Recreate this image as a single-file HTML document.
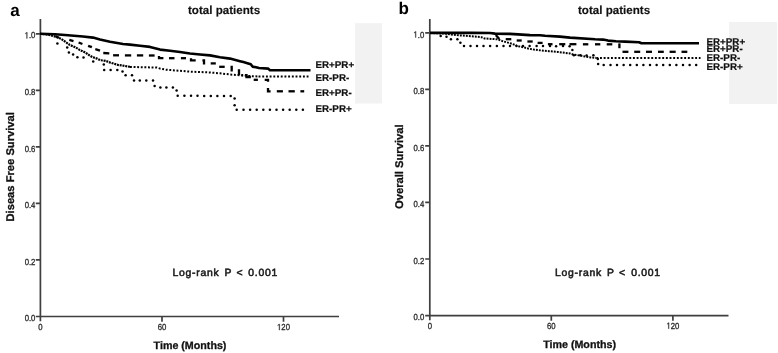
<!DOCTYPE html>
<html><head><meta charset="utf-8"><style>
html,body{margin:0;padding:0;background:#fff;}
svg{display:block;filter:grayscale(1);}
text{font-family:"Liberation Sans",sans-serif;text-rendering:geometricPrecision;}
.tk{font-size:8.8px;fill:#2a2a2a;stroke:#2a2a2a;stroke-width:0.3px;}
.ttl{font-size:11.6px;font-weight:bold;fill:#111;stroke:#111;stroke-width:0.15px;}
.lg{font-size:9.8px;font-weight:bold;fill:#111;stroke:#111;stroke-width:0.2px;}
.ax{font-size:10.7px;font-weight:bold;fill:#111;stroke:#111;stroke-width:0.3px;}
.yl{font-size:11.2px;font-weight:bold;fill:#111;stroke:#111;stroke-width:0.3px;}
.lr{font-size:10.4px;fill:#1a1a1a;stroke:#1a1a1a;stroke-width:0.55px;letter-spacing:0.73px;}
.one{fill:#2a2a2a;stroke:#2a2a2a;stroke-width:0.3px;vector-effect:non-scaling-stroke;}
.pl{font-size:17px;font-weight:bold;fill:#000;}
.axis{stroke:#3f3f3f;stroke-width:1.7;fill:none;}
.s{stroke:#000;stroke-width:2.6;fill:none;stroke-linejoin:round;}
.d polyline{stroke:#000;stroke-width:2.3;fill:none;}
.f{stroke:#000;stroke-width:2;fill:none;stroke-dasharray:1.9 1.1;}
.c{fill:#000;}
</style></head><body>
<svg width="778" height="353" viewBox="0 0 778 353">
<defs><path id="one" class="one" d="M515 0V1237L197 1010V1180L530 1409H696V0Z"/></defs>
<rect x="0" y="0" width="778" height="353" fill="#fff"/>
<rect x="355.2" y="23.2" width="26.8" height="80.3" fill="#f2f2f2"/>
<rect x="729" y="22" width="48" height="82" fill="#f2f2f2"/>

<text class="pl" x="10.2" y="15.8">a</text>
<text class="ttl" x="188" y="13.9">total patients</text>
<path class="axis" d="M40.4 19 V321.3 M40.4 316.5 H339 M35.8 33.8 H40.4 M35.8 90.3 H40.4 M35.8 146.9 H40.4 M35.8 203.4 H40.4 M35.8 259.9 H40.4 M35.8 316.5 H40.4 M162 316.5 V321.8 M283.5 316.5 V321.8"/>
<use href="#one" transform="matrix(0.00378125 0 0 -0.00429688 24.63 38.4)"/><text class="tk" transform="matrix(0.88 0 0 1 28.94 38.4)">.</text><text class="tk" transform="matrix(0.88 0 0 1 31.09 38.4)">0</text>
<text class="tk" transform="matrix(0.88 0 0 1 24.63 94.9)">0</text><text class="tk" transform="matrix(0.88 0 0 1 28.94 94.9)">.</text><text class="tk" transform="matrix(0.88 0 0 1 31.09 94.9)">8</text>
<text class="tk" transform="matrix(0.88 0 0 1 24.63 151.5)">0</text><text class="tk" transform="matrix(0.88 0 0 1 28.94 151.5)">.</text><text class="tk" transform="matrix(0.88 0 0 1 31.09 151.5)">6</text>
<text class="tk" transform="matrix(0.88 0 0 1 24.63 208)">0</text><text class="tk" transform="matrix(0.88 0 0 1 28.94 208)">.</text><text class="tk" transform="matrix(0.88 0 0 1 31.09 208)">4</text>
<text class="tk" transform="matrix(0.88 0 0 1 24.63 264.5)">0</text><text class="tk" transform="matrix(0.88 0 0 1 28.94 264.5)">.</text><text class="tk" transform="matrix(0.88 0 0 1 31.09 264.5)">2</text>
<text class="tk" transform="matrix(0.88 0 0 1 24.63 321.1)">0</text><text class="tk" transform="matrix(0.88 0 0 1 28.94 321.1)">.</text><text class="tk" transform="matrix(0.88 0 0 1 31.09 321.1)">0</text>
<text class="tk" transform="matrix(0.88 0 0 1 38.25 330.1)">0</text>
<text class="tk" transform="matrix(0.88 0 0 1 157.69 330.1)">6</text><text class="tk" transform="matrix(0.88 0 0 1 162 330.1)">0</text>
<use href="#one" transform="matrix(0.00378125 0 0 -0.00429688 277.04 330.1)"/><text class="tk" transform="matrix(0.88 0 0 1 281.35 330.1)">2</text><text class="tk" transform="matrix(0.88 0 0 1 285.65 330.1)">0</text>
<text class="ax" x="190" y="348.6" text-anchor="middle">Time (Months)</text>
<text class="yl" transform="translate(13.5,166.8) rotate(-90)" text-anchor="middle">Diseas Free Survival</text>
<text class="lr" x="172.5" y="276">Log-rank</text>
<text class="lr" x="224.5" y="276">P</text>
<text class="lr" x="236.5" y="276">&lt;</text>
<text class="lr" x="248.3" y="276">0.001</text>
<text class="lg" x="315.5" y="67.8">ER+PR+</text>
<text class="lg" x="315.5" y="81.1">ER-PR-</text>
<text class="lg" x="315.5" y="96.4">ER+PR-</text>
<text class="lg" x="315.5" y="111.6">ER-PR+</text>
<g class="d"><polyline points="55.5,36.2 59,37.8"/><polyline points="69.3,39.9 73.5,41.1"/><polyline points="78.6,42.5 82.4,44"/><polyline points="88.1,45.8 91.9,47.2"/><polyline points="95.3,49.2 100,50.6"/><polyline points="103.3,53 109.3,53.3"/><polyline points="113.1,55.3 119,55.3"/><polyline points="124.9,55.4 131.2,55.4"/><polyline points="136.9,55.4 143.2,55.4"/><polyline points="148.9,55.5 154.6,55.5"/><polyline points="159,56 159,58.2 163.4,58.2"/><polyline points="169,58.2 174.5,58.2"/><polyline points="180.9,58.2 186,58.2"/><polyline points="191,58.2 191,60.4 195.7,60.4"/><polyline points="202.4,60.4 204,60.4 204,63.4 205.2,63.4"/><polyline points="210.7,63.4 215.8,63.4"/><polyline points="219.2,66.8 224.7,66.8"/><polyline points="230.5,66.8 231.7,66.8 231.7,70.4 232.8,70.4"/><polyline points="237.8,70.4 239,70.4 239,75.2"/><polyline points="241.6,75.2 243.2,75.2"/><polyline points="245,75.2 246.5,75.2 246.5,77 250.9,77"/><polyline points="253.7,79.8 257.9,79.8"/><polyline points="264.7,79.9 268,79.9 268,81.8"/><polyline points="268,88 268,91.3 270.6,91.3"/><polyline points="276.8,91.3 282.9,91.3"/><polyline points="288.5,91.3 294.8,91.3"/><polyline points="300.4,91.3 304.2,91.3"/></g>
<polyline class="f" style="stroke-width:2.2;stroke-dasharray:2 0.8" points="40,33.8 48,34.6 55.3,36.6 61.2,38.9 65.5,41.9 69.7,44.9 75.7,47.4 80,50.1 85.1,52.4 89.3,55.2 92.7,57.2 97,58.6 100.4,60.2 105.5,60.8 109.7,62.4 114,63.7 118.2,65 122.4,65.5 130,66.9"/><polyline class="f" style="stroke-dasharray:1.9 1.7" points="130,66.9 157,67.6 160,68.6 166,69.7 175,70.4 190,71.6 210,72.5 220,73.3 230,74.5 240,75.2 252,76.2 258.55,76.5"/><polyline class="f" style="stroke-dasharray:1.9 1.8" points="258.55,76.6 308.5,76.6"/>
<g class="c"><circle cx="57.4" cy="43.6" r="1.25"/><circle cx="67.2" cy="47.4" r="1.25"/><circle cx="68.9" cy="52.5" r="1.25"/><circle cx="73.1" cy="54.6" r="1.25"/><circle cx="77.4" cy="57.3" r="1.25"/><circle cx="83.5" cy="57.5" r="1.25"/><circle cx="93.2" cy="61.6" r="1.25"/><circle cx="103.8" cy="64.4" r="1.25"/><circle cx="104.2" cy="70.1" r="1.25"/><circle cx="110.6" cy="70.1" r="1.25"/><circle cx="117.3" cy="70.1" r="1.25"/><circle cx="122.5" cy="71.6" r="1.25"/><circle cx="125.6" cy="75.3" r="1.25"/><circle cx="132" cy="75.3" r="1.25"/><circle cx="134" cy="80.4" r="1.25"/><circle cx="139.8" cy="80.4" r="1.25"/><circle cx="146.3" cy="80.4" r="1.25"/><circle cx="153" cy="80.4" r="1.25"/><circle cx="154.6" cy="86" r="1.25"/><circle cx="160.4" cy="87.5" r="1.25"/><circle cx="166.4" cy="87.5" r="1.25"/><circle cx="172.9" cy="87.5" r="1.25"/><circle cx="176.6" cy="90.6" r="1.25"/><circle cx="177.7" cy="95.7" r="1.25"/><circle cx="184.4" cy="95.7" r="1.25"/><circle cx="191" cy="95.7" r="1.25"/><circle cx="197.5" cy="95.7" r="1.25"/><circle cx="204.2" cy="95.9" r="1.25"/><circle cx="210.8" cy="95.9" r="1.25"/><circle cx="217.4" cy="95.9" r="1.25"/><circle cx="224" cy="95.9" r="1.25"/><circle cx="230.7" cy="95.9" r="1.25"/><circle cx="234.6" cy="98.6" r="1.25"/><circle cx="234.6" cy="105.2" r="1.25"/><circle cx="236.7" cy="109.8" r="1.25"/><circle cx="243.5" cy="109.8" r="1.25"/><circle cx="250.1" cy="109.8" r="1.25"/><circle cx="256.7" cy="109.8" r="1.25"/><circle cx="263.3" cy="109.8" r="1.25"/><circle cx="269.9" cy="109.8" r="1.25"/><circle cx="276.5" cy="109.8" r="1.25"/><circle cx="283.1" cy="109.8" r="1.25"/><circle cx="289.7" cy="109.8" r="1.25"/><circle cx="296.3" cy="109.8" r="1.25"/><circle cx="302.9" cy="109.8" r="1.25"/></g>
<polyline class="s" points="40,33.8 55,34.3 65,35 83,36.5 93,37.6 100,39.6 110,41.7 123,44 130,44.6 140,45.8 150,46.9 155,48.2 160,49.6 170,50.8 180,52 190,53.5 200,54.5 210,55.4 220,57.2 230,58.6 240,61.2 243.4,62.1 247.4,63.2 250.8,64.3 252.5,66.6 256,67.2 259,68 268.3,68.6 270,70.3 310.5,70.3"/>

<text class="pl" x="398.6" y="14.3">b</text>
<text class="ttl" x="578" y="13.9">total patients</text>
<path class="axis" d="M429.8 19 V320.3 M429.8 315.6 H728.5 M425.2 32.9 H429.8 M425.2 89.4 H429.8 M425.2 145.9 H429.8 M425.2 202.4 H429.8 M425.2 259 H429.8 M425.2 315.6 H429.8 M551.3 315.6 V320.7 M672.9 315.6 V320.7"/>
<use href="#one" transform="matrix(0.00378125 0 0 -0.00429688 413.43 37.5)"/><text class="tk" transform="matrix(0.88 0 0 1 417.74 37.5)">.</text><text class="tk" transform="matrix(0.88 0 0 1 419.89 37.5)">0</text>
<text class="tk" transform="matrix(0.88 0 0 1 413.43 94)">0</text><text class="tk" transform="matrix(0.88 0 0 1 417.74 94)">.</text><text class="tk" transform="matrix(0.88 0 0 1 419.89 94)">8</text>
<text class="tk" transform="matrix(0.88 0 0 1 413.43 150.5)">0</text><text class="tk" transform="matrix(0.88 0 0 1 417.74 150.5)">.</text><text class="tk" transform="matrix(0.88 0 0 1 419.89 150.5)">6</text>
<text class="tk" transform="matrix(0.88 0 0 1 413.43 207)">0</text><text class="tk" transform="matrix(0.88 0 0 1 417.74 207)">.</text><text class="tk" transform="matrix(0.88 0 0 1 419.89 207)">4</text>
<text class="tk" transform="matrix(0.88 0 0 1 413.43 263.6)">0</text><text class="tk" transform="matrix(0.88 0 0 1 417.74 263.6)">.</text><text class="tk" transform="matrix(0.88 0 0 1 419.89 263.6)">2</text>
<text class="tk" transform="matrix(0.88 0 0 1 413.43 320.2)">0</text><text class="tk" transform="matrix(0.88 0 0 1 417.74 320.2)">.</text><text class="tk" transform="matrix(0.88 0 0 1 419.89 320.2)">0</text>
<text class="tk" transform="matrix(0.88 0 0 1 427.65 328.7)">0</text>
<text class="tk" transform="matrix(0.88 0 0 1 546.99 328.7)">6</text><text class="tk" transform="matrix(0.88 0 0 1 551.3 328.7)">0</text>
<use href="#one" transform="matrix(0.00378125 0 0 -0.00429688 666.44 328.7)"/><text class="tk" transform="matrix(0.88 0 0 1 670.75 328.7)">2</text><text class="tk" transform="matrix(0.88 0 0 1 675.05 328.7)">0</text>
<text class="ax" x="579.6" y="347.7" text-anchor="middle">Time (Months)</text>
<text class="yl" transform="translate(403.3,166.7) rotate(-90)" text-anchor="middle">Overall Survival</text>
<text class="lr" x="555" y="276.2">Log-rank</text>
<text class="lr" x="607" y="276.2">P</text>
<text class="lr" x="619" y="276.2">&lt;</text>
<text class="lr" x="631.2" y="276.2">0.001</text>
<text class="lg" x="706.5" y="44.7">ER+PR+</text>
<text class="lg" x="706.5" y="52.4">ER+PR-</text>
<text class="lg" x="706.5" y="61.3">ER-PR-</text>
<text class="lg" x="706.5" y="69.6">ER-PR+</text>
<g class="d"><polyline points="495.8,34.9 499.3,38.9"/><polyline points="505.7,39.2 511.3,39.2"/><polyline points="516.7,40.5 521.7,40.5"/><polyline points="527.4,41.5 532.7,41.5"/><polyline points="537.6,42.9 542.6,42.9"/><polyline points="547.9,44.2 552.5,44.2"/><polyline points="559.2,44.2 565.3,44.2"/><polyline points="569.5,44.2 576.4,44.2"/><polyline points="582.9,44.3 588.3,44.3"/><polyline points="595,44.3 600.3,44.3"/><polyline points="606.7,44.3 612.3,44.3"/><polyline points="619.4,43.4 619.4,48.2"/><polyline points="622.5,51.8 628.4,51.8"/><polyline points="634.2,51.8 640.2,51.8"/><polyline points="646,51.8 652,51.8"/><polyline points="658,51.8 663.8,51.8"/><polyline points="669.6,51.8 675.7,51.8"/><polyline points="681.5,51.8 687.3,51.8"/></g>
<polyline class="f" points="430,33 445,33.6 450.6,34.5 458.7,35.3 465.5,35.8 474.3,36.5 481.4,37.2 484.5,38.4 494.4,39.1 498,39.4 503.2,41.4 509.4,43 515.6,45 517,46 524.2,47.4 528.4,48.6 534.8,49.7 541.9,50.5 549,51.2 557.7,51.9 565.3,52.9 569.9,53.4 573,54.4 580.6,55.6 585.2,56.5 590.6,57.4 596.35,57.9"/><polyline class="f" style="stroke-dasharray:1.9 1.76" points="596.35,57.95 700.5,57.95"/>
<g class="c"><circle cx="440.7" cy="36.1" r="1.25"/><circle cx="446.5" cy="36.7" r="1.25"/><circle cx="450.9" cy="39.3" r="1.25"/><circle cx="457.4" cy="39.3" r="1.25"/><circle cx="460.4" cy="42.8" r="1.25"/><circle cx="464" cy="46" r="1.25"/><circle cx="470.5" cy="46.1" r="1.25"/><circle cx="477" cy="46.1" r="1.25"/><circle cx="483.5" cy="46.1" r="1.25"/><circle cx="490.1" cy="46.1" r="1.25"/><circle cx="496.9" cy="46.1" r="1.25"/><circle cx="503.5" cy="46.1" r="1.25"/><circle cx="510" cy="46.1" r="1.25"/><circle cx="516.5" cy="46.1" r="1.25"/><circle cx="523" cy="46.1" r="1.25"/><circle cx="529.6" cy="46.1" r="1.25"/><circle cx="536.6" cy="46" r="1.25"/><circle cx="543" cy="46.1" r="1.25"/><circle cx="550" cy="46" r="1.25"/><circle cx="556.1" cy="46.3" r="1.25"/><circle cx="563" cy="46.1" r="1.25"/><circle cx="569.6" cy="46.2" r="1.25"/><circle cx="572.4" cy="50.1" r="1.25"/><circle cx="573.9" cy="55.2" r="1.25"/><circle cx="580.3" cy="55.3" r="1.25"/><circle cx="586.6" cy="55.5" r="1.25"/><circle cx="593.4" cy="55.3" r="1.25"/><circle cx="597.8" cy="59" r="1.25"/><circle cx="598.1" cy="64" r="1.25"/><circle cx="603.7" cy="65" r="1.25"/><circle cx="610.5" cy="65" r="1.25"/><circle cx="617" cy="65" r="1.25"/><circle cx="623.6" cy="65" r="1.25"/><circle cx="630.2" cy="65" r="1.25"/><circle cx="636.8" cy="65" r="1.25"/><circle cx="643.4" cy="65" r="1.25"/><circle cx="650" cy="65" r="1.25"/><circle cx="656.6" cy="65" r="1.25"/><circle cx="663.2" cy="65" r="1.25"/><circle cx="669.8" cy="65" r="1.25"/><circle cx="676.4" cy="65" r="1.25"/><circle cx="683" cy="65" r="1.25"/><circle cx="689.6" cy="65" r="1.25"/><circle cx="696.2" cy="65" r="1.25"/></g>
<polyline class="s" points="430,32.9 472,32.9 490,33 495,33.6 510,33.9 530,35.1 540,35.3 545,35.8 560,36.6 570,37.6 595,39.3 603,39.6 608,40.6 616,41.2 625,41.6 639,42.2 641.5,43.3 699,43.3"/>
</svg>
</body></html>
